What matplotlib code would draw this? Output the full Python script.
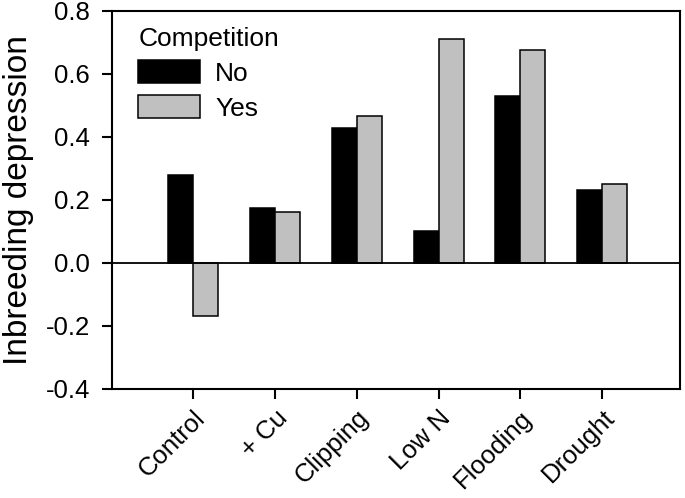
import numpy as np
import matplotlib
matplotlib.use("Agg")
import matplotlib.pyplot as plt

plt.rcParams['font.family'] = ['Liberation Sans', 'DejaVu Sans']

# data
treatments = ["Control", "+ Cu", "Clipping", "Low N", "Flooding", "Drought"]
comp_no = [0.28, 0.174, 0.428, 0.10, 0.529, 0.233]
comp_yes = [-0.167, 0.161, 0.466, 0.712, 0.677, 0.252]
yticks = [-0.4, -0.2, 0.0, 0.2, 0.4, 0.6, 0.8]

fig = plt.figure(figsize=(6.85, 4.98), dpi=100)
ax = fig.add_axes([0.1635, 0.219, 0.8292, 0.759])

x = np.arange(1, len(treatments) + 1)
w = 0.305
ax.bar(x - w/2, comp_no, w, color='black', edgecolor='black', linewidth=1.1, label='No', zorder=2)
ax.bar(x + w/2, comp_yes, w, color='#c0c0c0', edgecolor='black', linewidth=1.1, label='Yes', zorder=2)
ax.axhline(0, color='black', linewidth=1.3, zorder=3)

ax.set_xlim(0.01, 6.95)
ax.set_ylim(-0.4, 0.8)
ax.set_yticks(yticks)
ax.set_yticklabels(["%.1f" % v for v in yticks])
ax.set_xticks(x)
ax.set_xticklabels(treatments, rotation=45, ha='right', rotation_mode='anchor')

for s in ax.spines.values():
    s.set_linewidth(1.5)
ax.tick_params(axis='both', direction='out', width=1.5, length=7, labelsize=18.5)
ax.tick_params(axis='y', pad=9)
ax.tick_params(axis='x', labelsize=18.5, pad=5)
ax.set_ylabel("Inbreeding depression", fontsize=24, labelpad=8)

leg = ax.legend(title="Competition", loc='upper left', frameon=False, fontsize=19,
                title_fontsize=19, handlelength=2.35, handleheight=0.95,
                handletextpad=0.55, labelspacing=0.35, alignment='left',
                bbox_to_anchor=(0.028, 0.985), borderaxespad=0.0)

fig.savefig("out.png", dpi=100)
